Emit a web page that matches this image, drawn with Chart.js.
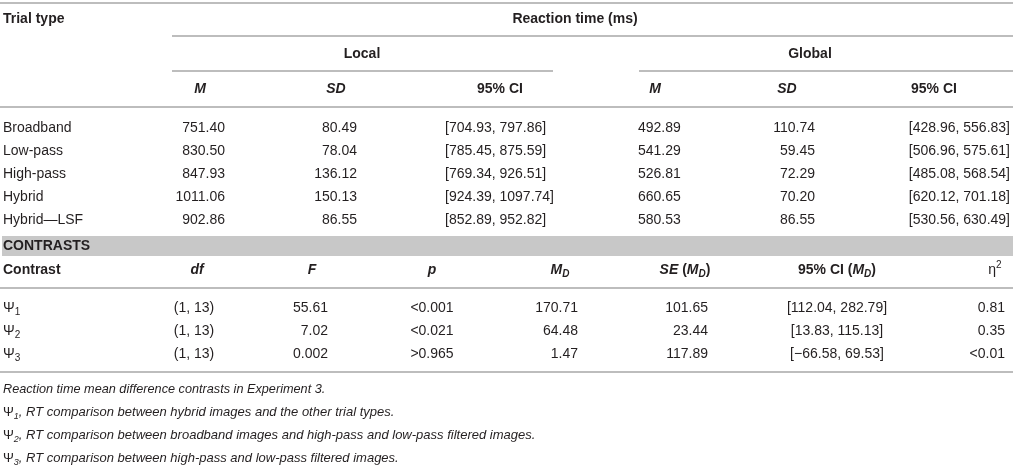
<!DOCTYPE html>
<html>
<head>
<meta charset="utf-8">
<script src="https://cdn.jsdelivr.net/npm/chart.js@4/dist/chart.umd.min.js"></script>
<style>
html,body{margin:0;padding:0;background:#fff;}
#wrap{width:1013px;height:465px;}
</style>
</head>
<body>
<div id="wrap"><canvas id="c" width="1013" height="465"></canvas></div>
<script>
// ---------- DATA ----------
const trialTypes = ['Broadband', 'Low-pass', 'High-pass', 'Hybrid', 'Hybrid\u2014LSF'];
const localM = [751.40, 830.50, 847.93, 1011.06, 902.86];
const localSD = [80.49, 78.04, 136.12, 150.13, 86.55];
const localCILow = [704.93, 785.45, 769.34, 924.39, 852.89];
const localCIHigh = [797.86, 875.59, 926.51, 1097.74, 952.82];
const globalM = [492.89, 541.29, 526.81, 660.65, 580.53];
const globalSD = [110.74, 59.45, 72.29, 70.20, 86.55];
const globalCILow = [428.96, 506.96, 485.08, 620.12, 530.56];
const globalCIHigh = [556.83, 575.61, 568.54, 701.18, 630.49];

const contrastIdx = ['1', '2', '3'];
const contrastDf = ['(1, 13)', '(1, 13)', '(1, 13)'];
const contrastF = ['55.61', '7.02', '0.002'];
const contrastP = ['<0.001', '<0.021', '>0.965'];
const contrastMD = [170.71, 64.48, 1.47];
const contrastSE = [101.65, 23.44, 117.89];
const contrastCILow = [112.04, 13.83, -66.58];
const contrastCIHigh = [282.79, 115.13, 69.53];
const contrastEta = ['0.81', '0.35', '<0.01'];

const captionTitle = 'Reaction time mean difference contrasts in Experiment 3.';
const captionNotes = [
  'RT comparison between hybrid images and the other trial types.',
  'RT comparison between broadband images and high-pass and low-pass filtered images.',
  'RT comparison between high-pass and low-pass filtered images.'
];

// ---------- LAYOUT (positions in scale units) ----------
const L = {
  W: 1013, H: 465,
  rowsTop: { title: 19, group: 54, sub: 89 },
  dataRows: [128, 151, 174, 197, 220],
  bandY: 246, bandH: 20, bandX0: 2,
  contrastHead: 270,
  contrastRows: [308, 331, 354],
  captionRows: [389, 412, 435, 458],
  rules: [
    [0, 1013, 3], [172, 1013, 36], [172, 553, 71], [639, 1013, 71],
    [0, 1013, 107], [0, 1013, 288], [0, 1013, 372]
  ],
  // top table columns
  cLeft: 3,
  rtCenter: 575, localCenter: 362, globalCenter: 810,
  lM: { h: 200, d: 225 }, lSD: { h: 336, d: 357 }, lCI: { h: 500, d: 445 },
  gM: { h: 655, d: 638 }, gSD: { h: 787, d: 815 }, gCI: { h: 934, d: 1010 },
  // contrast table columns
  df: { h: 197, d: 194 }, F: { h: 312, d: 328 }, p: { h: 432, d: 432 },
  md: { h: 560, d: 578 }, se: { h: 685, d: 708 }, ci: { h: 837, d: 837 }, eta: { h: 995, d: 1005 }
};

const FAM = '"Liberation Sans", Arial, Helvetica, sans-serif';
const SIZE = 14;
const CAP_TITLE = 12.7;
const CAP_NOTE = 13;
const COLOR = '#231f20';
const RULE = '#bdbdbd';
const BAND = '#c8c8c8';

const fmt = v => (v < 0 ? '\u2212' : '') + Math.abs(v).toFixed(2);

// rule datasets drawn by Chart.js
const ruleSets = L.rules.map(r => ({
  data: [{ x: r[0], y: r[2] }, { x: r[1], y: r[2] }],
  borderColor: RULE, borderWidth: 2, showLine: true, pointRadius: 0, borderCapStyle: 'butt'
}));
ruleSets.unshift({
  data: [{ x: L.bandX0, y: L.bandY }, { x: L.W, y: L.bandY }],
  borderColor: BAND, borderWidth: L.bandH, showLine: true, pointRadius: 0, borderCapStyle: 'butt'
});

// rich text helper: runs = [{t, b, i, sub, sup, s}]
function runFont(r) {
  const base = r.s || SIZE;
  const sz = (r.sub || r.sup) ? Math.round(base * 0.72) : base;
  return (r.i ? 'italic ' : '') + (r.b ? 'bold ' : '') + sz + 'px ' + FAM;
}
function drawRich(ctx, runs, x, y, align) {
  let total = 0;
  runs.forEach(r => { ctx.font = runFont(r); r._w = ctx.measureText(r.t).width; total += r._w; });
  let cx = align === 'center' ? x - total / 2 : align === 'right' ? x - total : x;
  runs.forEach(r => {
    ctx.font = runFont(r);
    let dy = r.sub ? 4 : r.sup ? -5 : 0;
    ctx.fillText(r.t, cx, y + dy);
    cx += r._w;
  });
}

const tablePlugin = {
  id: 'table',
  afterDatasetsDraw(chart) {
    const ctx = chart.ctx, sx = chart.scales.x, sy = chart.scales.y;
    const X = v => sx.getPixelForValue(v), Y = v => sy.getPixelForValue(v);
    ctx.save();
    ctx.fillStyle = COLOR;
    ctx.textBaseline = 'middle';
    ctx.textAlign = 'left';
    const T = (runs, x, y, a) => drawRich(ctx, typeof runs === 'string' ? [{ t: runs }] : runs, X(x), Y(y), a);
    const B = t => [{ t, b: true }];
    const BI = t => [{ t, b: true, i: true }];

    // top header
    T(B('Trial type'), L.cLeft, L.rowsTop.title, 'left');
    T(B('Reaction time (ms)'), L.rtCenter, L.rowsTop.title, 'center');
    T(B('Local'), L.localCenter, L.rowsTop.group, 'center');
    T(B('Global'), L.globalCenter, L.rowsTop.group, 'center');
    T(BI('M'), L.lM.h, L.rowsTop.sub, 'center');
    T(BI('SD'), L.lSD.h, L.rowsTop.sub, 'center');
    T(B('95% CI'), L.lCI.h, L.rowsTop.sub, 'center');
    T(BI('M'), L.gM.h, L.rowsTop.sub, 'center');
    T(BI('SD'), L.gSD.h, L.rowsTop.sub, 'center');
    T(B('95% CI'), L.gCI.h, L.rowsTop.sub, 'center');

    // top data
    trialTypes.forEach((name, i) => {
      const y = L.dataRows[i];
      T(name, L.cLeft, y, 'left');
      T(fmt(localM[i]), L.lM.d, y, 'right');
      T(fmt(localSD[i]), L.lSD.d, y, 'right');
      T('[' + fmt(localCILow[i]) + ', ' + fmt(localCIHigh[i]) + ']', L.lCI.d, y, 'left');
      T(fmt(globalM[i]), L.gM.d, y, 'left');
      T(fmt(globalSD[i]), L.gSD.d, y, 'right');
      T('[' + fmt(globalCILow[i]) + ', ' + fmt(globalCIHigh[i]) + ']', L.gCI.d, y, 'right');
    });

    // contrasts band label
    T(B('CONTRASTS'), L.cLeft, L.bandY, 'left');

    // contrast header
    const hy = L.contrastHead;
    T(B('Contrast'), L.cLeft, hy, 'left');
    T(BI('df'), L.df.h, hy, 'center');
    T(BI('F'), L.F.h, hy, 'center');
    T(BI('p'), L.p.h, hy, 'center');
    T([{ t: 'M', b: true, i: true }, { t: 'D', b: true, i: true, sub: true }], L.md.h, hy, 'center');
    T([{ t: 'SE', b: true, i: true }, { t: ' (', b: true }, { t: 'M', b: true, i: true }, { t: 'D', b: true, i: true, sub: true }, { t: ')', b: true }], L.se.h, hy, 'center');
    T([{ t: '95% CI (', b: true }, { t: 'M', b: true, i: true }, { t: 'D', b: true, i: true, sub: true }, { t: ')', b: true }], L.ci.h, hy, 'center');
    T([{ t: '\u03b7' }, { t: '2', sup: true }], L.eta.h, hy, 'center');

    // contrast rows
    contrastIdx.forEach((k, i) => {
      const y = L.contrastRows[i];
      T([{ t: '\u03a8' }, { t: k, sub: true }], L.cLeft, y, 'left');
      T(contrastDf[i], L.df.d, y, 'center');
      T(contrastF[i], L.F.d, y, 'right');
      T(contrastP[i], L.p.d, y, 'center');
      T(fmt(contrastMD[i]), L.md.d, y, 'right');
      T(fmt(contrastSE[i]), L.se.d, y, 'right');
      T('[' + fmt(contrastCILow[i]) + ', ' + fmt(contrastCIHigh[i]) + ']', L.ci.d, y, 'center');
      T(contrastEta[i], L.eta.d, y, 'right');
    });

    // captions
    T([{ t: captionTitle, i: true, s: CAP_TITLE }], L.cLeft, L.captionRows[0], 'left');
    captionNotes.forEach((n, i) => {
      T([{ t: '\u03a8', s: CAP_NOTE }, { t: contrastIdx[i], i: true, sub: true, s: CAP_NOTE }, { t: ', ' + n, i: true, s: CAP_NOTE }], L.cLeft, L.captionRows[i + 1], 'left');
    });
    ctx.restore();
  }
};

new Chart(document.getElementById('c'), {
  type: 'scatter',
  data: { datasets: ruleSets },
  options: {
    responsive: false,
    animation: false,
    events: [],
    layout: { padding: 0 },
    plugins: { legend: { display: false }, tooltip: { enabled: false } },
    scales: {
      x: { type: 'linear', min: 0, max: L.W, display: false },
      y: { type: 'linear', min: 0, max: L.H, reverse: true, display: false }
    }
  },
  plugins: [tablePlugin]
});
</script>
</body>
</html>
